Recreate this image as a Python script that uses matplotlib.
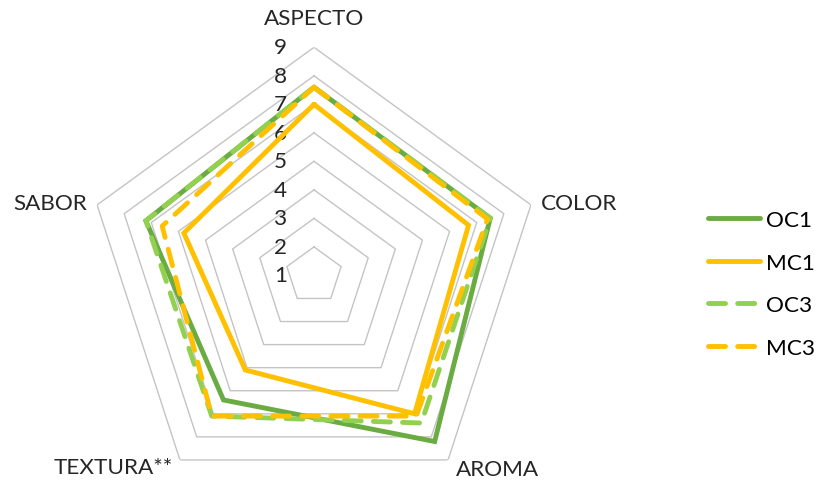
import numpy as np
import matplotlib
matplotlib.use("Agg")
import matplotlib.pyplot as plt
from matplotlib.transforms import offset_copy

plt.rcParams['font.family'] = ['Lato', 'DejaVu Sans']

categories = ["ASPECTO", "COLOR", "AROMA", "TEXTURA**", "SABOR"]
series_names = ["OC1", "MC1", "OC3", "MC3"]
oc1 = [7.6, 7.5, 8.2, 6.4, 7.2]
mc1 = [7.0, 6.7, 7.0, 5.1, 5.8]
oc3 = [7.6, 7.5, 7.4, 7.1, 7.2]
mc3 = [7.6, 7.4, 7.1, 7.1, 6.6]
ticks = [1, 2, 3, 4, 5, 6, 7, 8, 9]

colors = {"OC1": "#6AAB42", "MC1": "#FFC000", "OC3": "#92D050", "MC3": "#FFC000"}
styles = {"OC1": "-", "MC1": "-", "OC3": (0, (3.5, 2.5)), "MC3": (0, (3.5, 2.5))}

W, H = 819, 481
fig = plt.figure(figsize=(W / 100, H / 100), dpi=100)

cx, cy, R = 314, 276.4, 228.1
ax = fig.add_axes([(cx - R) / W, (H - cy - R) / H, 2 * R / W, 2 * R / H],
                  projection="polar")
ax.set_theta_offset(np.pi / 2)
ax.set_theta_direction(-1)
ax.set_ylim(ticks[0], ticks[-1])
ax.grid(False)
ax.set_xticks([])
ax.set_yticks([])
ax.spines["polar"].set_visible(False)
ax.patch.set_alpha(0)

n = len(categories)
angles = np.linspace(0, 2 * np.pi, n, endpoint=False)
closed = np.concatenate([angles, angles[:1]])

# pentagon gridlines
for t in ticks[1:]:
    ax.plot(closed, [t] * (n + 1), color="#C4C4C4", lw=1.0, zorder=1)

FS = 16.2

# scale labels along the vertical axis
for t in ticks:
    tr = offset_copy(ax.transData, fig=fig, x=-27, y=0, units="dots")
    ax.text(0, t, str(t), transform=tr, ha="right", va="center",
            fontsize=FS, color="#262626")

# category labels around the outer ring
label_offsets = [(0, 29, "center"), (10, 2, "left"), (8, -9, "left"),
                 (-7, -7, "right"), (-10, 1.5, "right")]
for ang, name, (dx, dy, ha) in zip(angles, categories, label_offsets):
    tr = offset_copy(ax.transData, fig=fig, x=dx, y=dy, units="dots")
    ax.text(ang, ticks[-1], name, transform=tr, ha=ha, va="center",
            fontsize=FS, color="#262626")

data = {"OC1": oc1, "MC1": mc1, "OC3": oc3, "MC3": mc3}
for name in series_names:
    vals = data[name] + data[name][:1]
    ax.plot(closed, vals, color=colors[name], linestyle=styles[name], lw=3.5,
            dash_capstyle="round", solid_capstyle="round",
            solid_joinstyle="miter", label=name, zorder=3)

fig.legend(loc="center left", bbox_to_anchor=(708 / W, (H - 285) / H),
           frameon=False, fontsize=FS, handlelength=2.3, handletextpad=0.28,
           labelspacing=1.0, borderpad=0, borderaxespad=0)

fig.savefig("out.png", dpi=100)
